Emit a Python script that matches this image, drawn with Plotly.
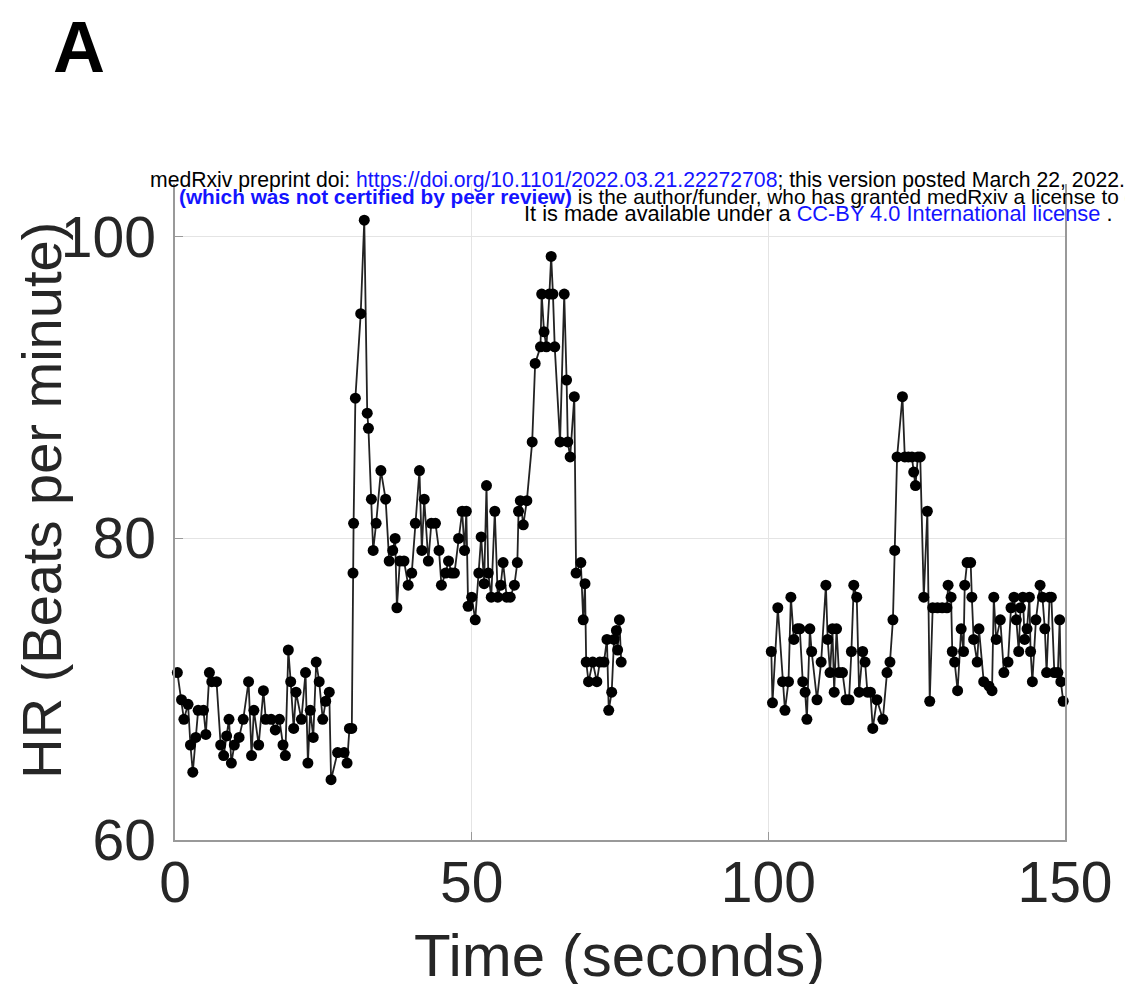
import plotly.graph_objects as go

# ---- data ----
t_seg1 = [0.4, 1.1, 1.5, 2.2, 2.6, 3.0, 3.5, 3.9, 4.8, 5.2, 5.8, 6.2, 7.0, 7.7, 8.2, 8.7, 9.1, 9.5,
          10.0, 10.8, 11.5, 12.4, 12.9, 13.3, 14.1, 14.9, 15.3, 16.2, 16.9, 17.6, 18.2, 18.6, 19.1,
          19.5, 20.0, 20.4, 21.3, 22.0, 22.4, 22.8, 23.3, 23.8, 24.3, 24.9, 25.4, 26.0, 26.3, 27.4,
          28.5, 29.0, 29.4, 29.8, 30.0, 30.1, 30.4, 31.3, 31.9, 32.4, 32.6, 33.1, 33.4, 33.9, 34.7,
          35.5, 36.1, 36.7, 37.1, 37.4, 37.9, 38.6, 39.3, 39.9, 40.5, 41.2, 41.6, 42.0, 42.7, 43.2,
          43.9, 44.5, 44.9, 45.6, 46.1, 46.6, 47.1, 47.8, 48.4, 48.8, 49.1, 49.4, 50.0, 50.6, 51.2,
          51.6, 52.1, 52.5, 52.8, 53.3, 53.9, 54.4, 54.9, 55.3, 55.9, 56.5, 57.2, 57.7, 57.9, 58.2,
          58.7, 59.3, 60.2, 60.7, 61.6, 61.8, 62.2, 62.6, 63.1, 63.4, 63.7, 64.0, 64.9, 65.6, 66.0,
          66.2, 66.6, 67.3, 67.6, 68.4, 68.8, 69.1, 69.3, 69.7, 70.4, 71.1, 71.6, 72.3, 72.8, 73.1,
          73.6, 74.0, 74.4, 74.6, 74.9, 75.2]
hr_seg1 = [71.1, 69.3, 68.0, 69.0, 66.3, 64.5, 66.8, 68.6, 68.6, 67.0, 71.1, 70.5, 70.5, 66.3, 65.6,
           66.9, 68.0, 65.1, 66.3, 66.8, 68.0, 70.5, 65.6, 68.6, 66.3, 69.9, 68.0, 68.0, 67.3, 68.0,
           66.3, 65.6, 72.6, 70.5, 67.4, 69.8, 68.0, 71.1, 65.1, 68.6, 66.8, 71.8, 70.5, 68.0, 69.2,
           69.8, 64.0, 65.8, 65.8, 65.1, 67.4, 67.4, 77.7, 81.0, 89.3, 94.9, 101.1, 88.3, 87.3, 82.6,
           79.2, 81.0, 84.5, 82.6, 78.5, 79.2, 80.0, 75.4, 78.5, 78.5, 76.9, 77.7, 81.0, 84.5, 79.2,
           82.6, 78.5, 81.0, 81.0, 79.2, 76.9, 77.7, 78.5, 77.7, 77.7, 80.0, 81.8, 79.2, 81.8, 75.5,
           76.1, 74.6, 77.7, 80.1, 77.0, 83.5, 77.7, 76.1, 81.8, 76.1, 76.9, 78.4, 76.1, 76.1, 76.9,
           78.4, 81.8, 82.5, 80.9, 82.5, 86.4, 91.6, 92.7, 96.2, 93.7, 92.7, 96.2, 98.7, 96.2, 92.7,
           86.4, 96.2, 90.5, 86.4, 85.4, 89.4, 77.7, 78.4, 74.6, 77.0, 71.8, 70.5, 71.8, 70.5, 71.8,
           71.8, 73.3, 68.6, 69.8, 73.3, 73.9, 72.6, 74.6, 71.8]

t_seg2 = [100.5, 100.7, 101.6, 102.4, 102.8, 103.4, 103.8, 104.3, 104.9, 105.3, 105.8, 106.2, 106.5,
          107.0, 107.3, 108.2, 108.9, 109.7, 110.0, 110.4, 110.8, 111.1, 111.5, 111.9, 112.5, 113.1,
          113.6, 114.0, 114.4, 114.9, 115.3, 115.9, 116.3, 116.7, 117.2, 117.6, 118.3, 119.3, 120.0,
          120.5, 121.0, 121.3, 121.7, 122.6, 123.0, 123.6, 124.2, 124.5, 124.8, 125.2, 125.6, 126.2,
          126.8, 127.2, 127.7, 128.5, 129.3, 130.1, 130.3, 130.8, 131.0, 131.4, 131.9, 132.5, 132.9,
          133.1, 133.5, 134.1, 134.3, 134.6, 135.2, 135.5, 136.3, 137.2, 137.7, 138.0, 138.4, 139.1,
          139.7, 140.4, 140.9, 141.4, 141.8, 142.2, 142.5, 142.9, 143.2, 143.6, 144.0, 144.2, 144.5,
          145.1, 145.8, 146.2, 146.6, 146.9, 147.4, 147.7, 148.2, 148.8, 149.1, 149.3, 149.7]
hr_seg2 = [72.5, 69.1, 75.4, 70.5, 68.6, 70.5, 76.1, 73.3, 74.0, 74.0, 70.5, 69.8, 68.0, 74.0, 72.5,
           69.3, 71.8, 76.9, 73.3, 71.1, 74.0, 69.8, 74.0, 71.1, 71.1, 69.3, 69.3, 72.5, 76.9, 76.1,
           69.8, 72.5, 71.8, 69.8, 69.8, 67.4, 69.3, 68.0, 71.1, 71.8, 74.6, 79.2, 85.4, 89.4, 85.4,
           85.4, 85.4, 84.4, 83.5, 85.4, 85.4, 76.1, 81.8, 69.2, 75.4, 75.4, 75.4, 75.4, 76.9, 76.1,
           72.5, 71.8, 69.9, 74.0, 72.5, 76.9, 78.4, 78.4, 76.1, 73.3, 71.8, 74.0, 70.5, 70.2, 69.9,
           76.1, 73.3, 74.6, 71.1, 71.8, 75.4, 76.1, 74.6, 72.5, 75.4, 76.1, 73.3, 74.0, 76.1, 72.5,
           70.5, 74.6, 76.9, 76.1, 74.0, 71.1, 76.1, 76.1, 71.1, 71.1, 74.6, 70.5, 69.2]

x_ticks = [0, 50, 100, 150]
y_ticks = [60, 80, 100]
y_range = [60, 103.5]

# ---- layout geometry (pixels) ----
W, H = 1125, 984
L, R, T, B = 175, 48, 184, 144
PW, PH = W - L - R, H - T - B


def px(x):
    return (x - L) / PW


def py(y):
    return (H - B - y) / PH


FONT = "Liberation Sans, Arial, Helvetica, sans-serif"
TXT = "#262626"
AX = "#999999"

fig = go.Figure()
fig.add_trace(go.Scatter(
    x=t_seg1 + [None] + t_seg2,
    y=hr_seg1 + [None] + hr_seg2,
    mode="lines+markers",
    line=dict(color="#222222", width=1.8),
    marker=dict(color="black", size=11),
    connectgaps=False,
    cliponaxis=False,
    showlegend=False,
))

axis_common = dict(
    showgrid=True, gridcolor="#e4e4e4", gridwidth=1.2,
    showline=True, linecolor=AX, linewidth=1.5,
    ticks="inside", ticklen=8, tickcolor=AX, tickwidth=1.2,
    tickfont=dict(family=FONT, size=57, color=TXT),
    zeroline=False,
)
fig.update_xaxes(range=[0, 150], tickvals=x_ticks, ticktext=[str(v) for v in x_ticks],
                 mirror=False, ticklabelstandoff=-8, **axis_common)
fig.update_yaxes(range=y_range, tickvals=y_ticks, ticktext=[str(v) for v in y_ticks],
                 mirror=True, ticklabelstandoff=6, **axis_common)

blue = "#1414ff"
annotations = [
    dict(text="<b>A</b>", x=px(49), y=py(47), xanchor="left", yanchor="middle",
         font=dict(family=FONT, size=72, color="black")),
    dict(text="Time (seconds)", x=px(625), y=py(955), xanchor="center", yanchor="middle",
         font=dict(family=FONT, size=60, color=TXT)),
    dict(text="HR (Beats per minute)", x=px(39), y=py(500), xanchor="center", yanchor="middle",
         textangle=-90, font=dict(family=FONT, size=56, color=TXT)),
    dict(text=("medRxiv preprint doi: <span style='color:%s'>https://doi.org/10.1101/2022.03.21.22272708</span>"
               "; this version posted March 22, 2022. The copyright holder for this preprint") % blue,
         x=px(148), y=py(180), xanchor="left", yanchor="middle",
         font=dict(family=FONT, size=21.2, color="black")),
    dict(text=("<span style='color:%s'><b>(which was not certified by peer review)</b></span>"
               " is the author/funder, who has granted medRxiv a license to display the preprint in perpetuity.") % blue,
         x=px(177), y=py(196), xanchor="left", yanchor="middle",
         font=dict(family=FONT, size=20.8, color="black")),
    dict(text=("It is made available under a <span style='color:%s'>CC-BY 4.0 International license</span> .") % blue,
         x=px(527), y=py(213), xanchor="left", yanchor="middle",
         font=dict(family=FONT, size=21.8, color="black")),
]
for a in annotations:
    a.update(xref="paper", yref="paper", showarrow=False)

fig.update_layout(
    width=W, height=H,
    margin=dict(l=L, r=R, t=T, b=B, pad=0),
    paper_bgcolor="white", plot_bgcolor="white",
    annotations=annotations,
)

fig.write_html("out.html")
